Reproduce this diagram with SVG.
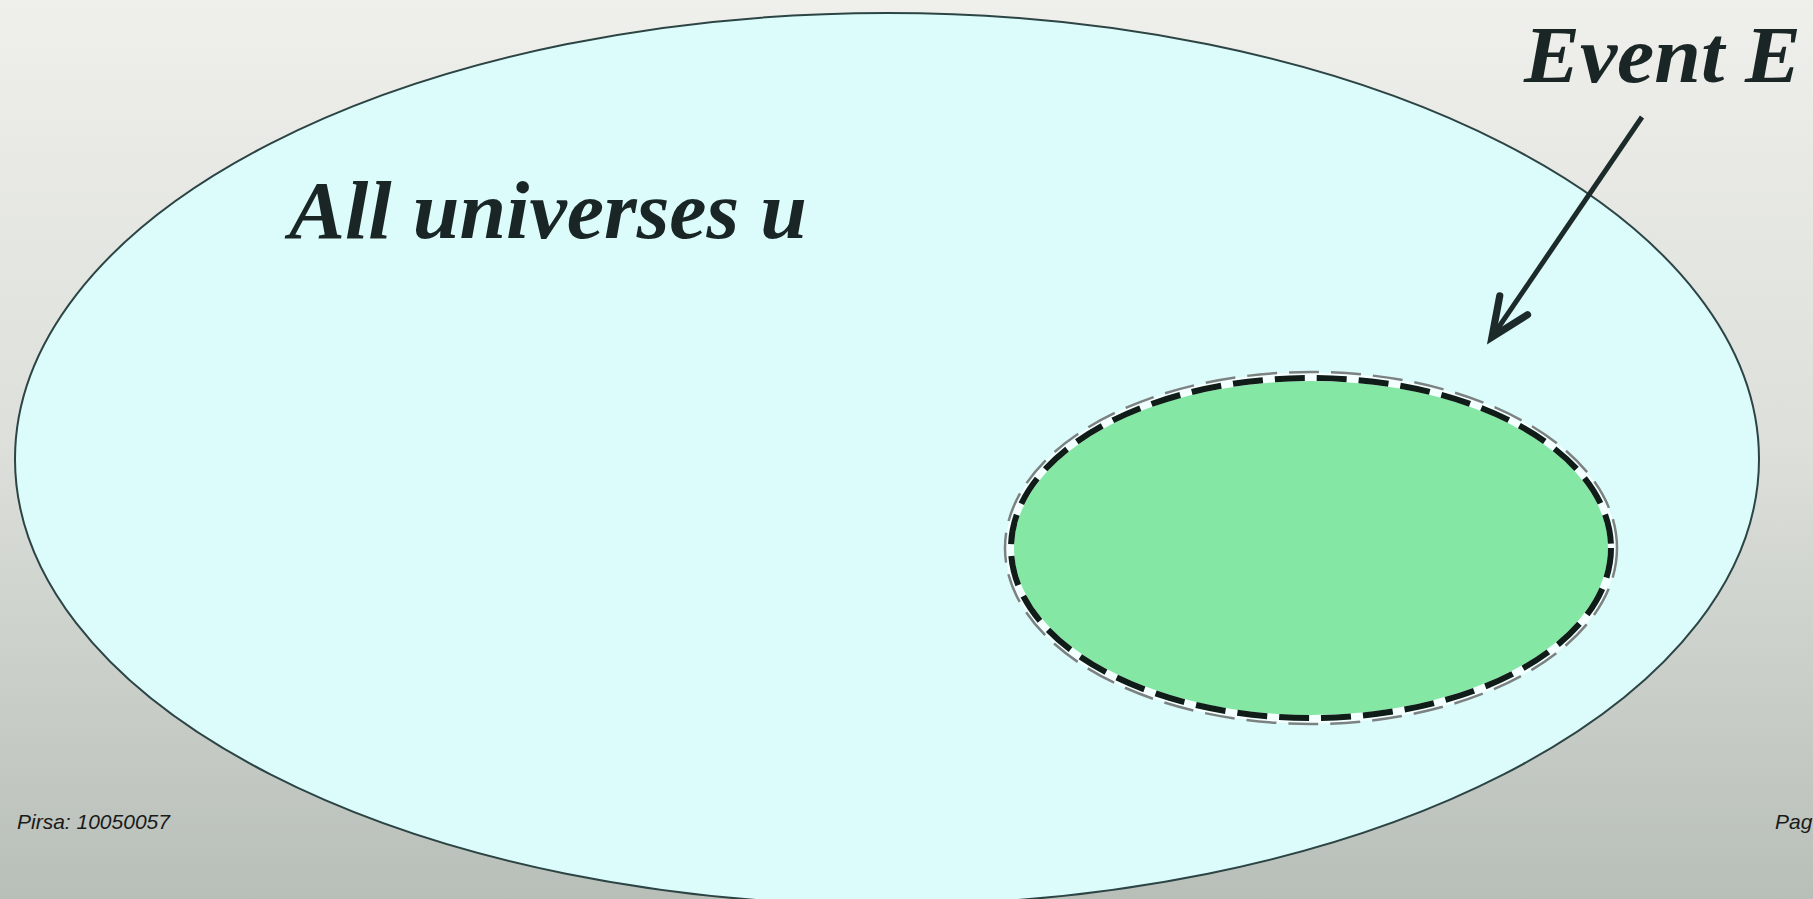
<svg xmlns="http://www.w3.org/2000/svg" width="1813" height="899" viewBox="0 0 1813 899">
  <defs>
    <linearGradient id="bg" x1="0" y1="0" x2="0" y2="1">
      <stop offset="0" stop-color="#efefeb"/>
      <stop offset="0.5" stop-color="#dcdfda"/>
      <stop offset="1" stop-color="#b8bfb8"/>
    </linearGradient>
    <marker id="vhead" markerUnits="userSpaceOnUse" markerWidth="60" markerHeight="60" viewBox="-40 -25 50 50" refX="0" refY="0" orient="auto">
      <path d="M -32 -14 L 0 0 L -32 14" fill="none" stroke="#1c2a2a" stroke-width="6" stroke-linecap="round" stroke-linejoin="miter"/>
    </marker>
    <style>
      .serif { font-family: "Liberation Serif", "Times New Roman", serif; font-weight: bold; font-style: italic; fill: #1a2626; }
      .sans { font-family: "Liberation Sans", Arial, sans-serif; font-style: italic; fill: #1a1a1a; font-size: 21px; }
    </style>
  </defs>
  <rect x="0" y="0" width="1813" height="899" fill="url(#bg)"/>

  <g id="universe">
    <ellipse cx="887" cy="459" rx="872" ry="446" fill="#dcfcfc" stroke="#2c4444" stroke-width="2"/>
    <text class="serif" x="289" y="238" font-size="82" textLength="518" lengthAdjust="spacingAndGlyphs">All universes u</text>
  </g>

  <g id="event">
    <ellipse cx="1311" cy="548" rx="304" ry="174" fill="none" stroke="#f4ffff" stroke-width="3"/>
    <ellipse cx="1311" cy="548" rx="306" ry="176" fill="none" stroke="#7c8282" stroke-width="2.5" stroke-dasharray="30 12"/>
    <ellipse cx="1311" cy="548" rx="300" ry="170" fill="#84e8a4" stroke="#f4ffff" stroke-width="6"/>
    <ellipse cx="1311" cy="548" rx="300" ry="170" fill="none" stroke="#101c18" stroke-width="6" stroke-dasharray="30 12"/>
    <text class="serif" x="1524" y="82" font-size="80" textLength="277" lengthAdjust="spacingAndGlyphs">Event E</text>
  </g>

  <g id="connectors">
    <line x1="1642" y1="117" x2="1492" y2="337" stroke="#1c2a2a" stroke-width="5" marker-end="url(#vhead)"/>
  </g>

  <g id="footer">
    <text class="sans" x="17" y="829">Pirsa: 10050057</text>
    <text class="sans" x="1775" y="829">Pag</text>
  </g>
</svg>
